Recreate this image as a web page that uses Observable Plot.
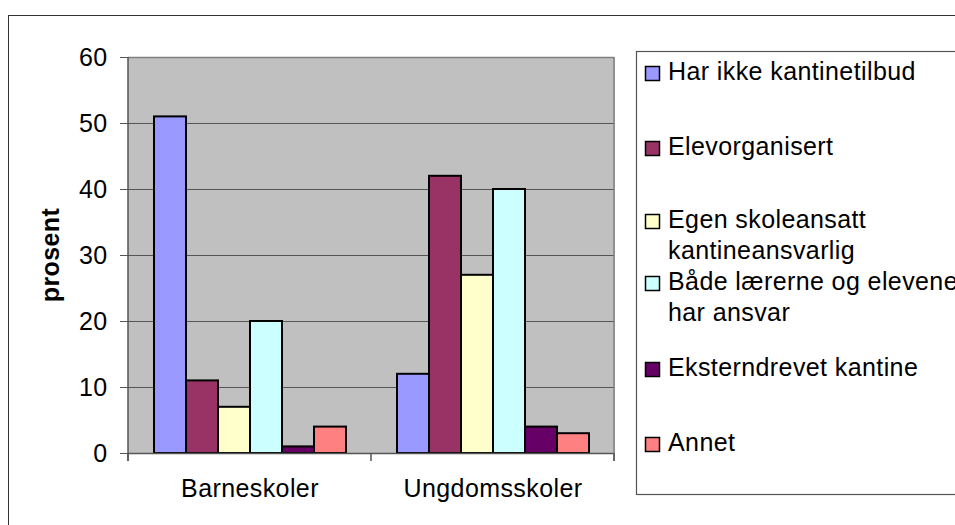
<!DOCTYPE html>
<html>
<head>
<meta charset="utf-8">
<script src="https://cdn.jsdelivr.net/npm/d3@7"></script>
<script src="https://cdn.jsdelivr.net/npm/@observablehq/plot@0.6"></script>
<style>
  html, body { margin: 0; padding: 0; background: #fff; overflow: hidden; width: 955px; height: 525px; }
  #wrap { position: relative; width: 955px; height: 525px; overflow: hidden; }
  #outer { position: absolute; left: 8px; top: 15px; width: 1000px; height: 600px; border: 1px solid #333; box-sizing: border-box; }
  #chart { position: absolute; left: 0; top: 0; }
  svg text { letter-spacing: 0.4px; }
</style>
</head>
<body>
<div id="wrap"><div id="outer"></div><div id="chart"></div></div>
<script>
// ---- data ----
const categories = ["Barneskoler", "Ungdomsskoler"];
const series = [
  "Har ikke kantinetilbud",
  "Elevorganisert",
  "Egen skoleansatt kantineansvarlig",
  "Både lærerne og elevene har ansvar",
  "Eksterndrevet kantine",
  "Annet"
];
const barneskoler = [51, 11, 7, 20, 1, 4];
const ungdomsskoler = [12, 42, 27, 40, 4, 3];
const colors = ["#9999FF", "#993366", "#FFFFCC", "#CCFFFF", "#660066", "#FF8080"];
const yTicks = [0, 10, 20, 30, 40, 50, 60];
const gridTicks = [10, 20, 30, 40, 50];
const yLabel = "prosent";
const legendLines = [
  ["Har ikke kantinetilbud"],
  ["Elevorganisert"],
  ["Egen skoleansatt", "kantineansvarlig"],
  ["Både lærerne og elevene", "har ansvar"],
  ["Eksterndrevet kantine"],
  ["Annet"]
];

// ---- table ----
const valuesByCategory = [barneskoler, ungdomsskoler];
const data = [];
categories.forEach((c, ci) => series.forEach((s, si) => data.push({school: c, type: s, value: valuesByCategory[ci][si]})));

const FONT = "'Liberation Sans', Arial, sans-serif";
const W = 955, H = 525;

const chart = Plot.plot({
  width: W, height: H,
  marginLeft: 128, marginTop: 57, marginRight: 341, marginBottom: 72,
  style: {fontFamily: FONT, fontSize: "25px", background: "transparent", color: "#000"},
  fx: {domain: categories, padding: 0, label: null},
  x: {domain: series, paddingInner: 0, paddingOuter: 0.74, axis: null},
  y: {domain: [0, 60], label: null},
  color: {domain: series, range: colors},
  marks: [
    Plot.frame({fill: "#C0C0C0", stroke: "#C0C0C0", strokeWidth: 1}),
    Plot.gridY(gridTicks, {stroke: "#555", strokeOpacity: 1, strokeWidth: 1}),
    Plot.ruleY([60], {stroke: "#808080", strokeWidth: 1.5}),
    Plot.barY(data, {fx: "school", x: "type", y: "value", fill: "type", stroke: "#000", strokeWidth: 2}),
    Plot.ruleY([0], {stroke: "#555", strokeWidth: 1.5}),
    Plot.axisY({ticks: yTicks, tickSize: 8, tickPadding: 13, fontSize: 25, stroke: "#555", fill: "#000", label: null}),
    Plot.axisFx({anchor: "bottom", tickSize: 0, tickPadding: 26, fontSize: 25, fill: "#000", label: null})
  ]
});

document.getElementById("chart").appendChild(chart);

// ---- extra decorations using the chart's scales ----
const svg = d3.select(chart);
const fx = chart.scale("fx");
const ys = chart.scale("y");
const yTop = ys.apply(60), yBot = ys.apply(0);
const left = fx.apply(categories[0]);
const right = fx.apply(categories[categories.length - 1]) + fx.bandwidth;
const edges = categories.map(c => fx.apply(c)).concat([right]);

const g = svg.append("g").attr("text-anchor", "start");
// left axis line
g.append("line").attr("x1", left).attr("x2", left).attr("y1", yTop).attr("y2", yBot + 8)
  .attr("stroke", "#555").attr("stroke-width", 1.5);
// right border
g.append("line").attr("x1", right).attr("x2", right).attr("y1", yTop).attr("y2", yBot + 8)
  .attr("stroke", "#808080").attr("stroke-width", 1.5);
// category boundary ticks
g.selectAll("line.ct").data(edges).join("line").attr("class", "ct")
  .attr("x1", d => d).attr("x2", d => d).attr("y1", yBot).attr("y2", yBot + 8)
  .attr("stroke", "#555").attr("stroke-width", 1.5);

// y-axis title
g.append("text").text(yLabel)
  .attr("transform", `translate(59,${(yTop + yBot) / 2}) rotate(-90)`)
  .attr("text-anchor", "middle").attr("font-weight", "bold")
  .attr("font-family", FONT).attr("font-size", 25).attr("fill", "#000");

// legend
const color = chart.scale("color");
const legendX = 636.5, legendY = 51.5, legendH = 443;
g.append("rect").attr("x", legendX).attr("y", legendY).attr("width", 400).attr("height", legendH)
  .attr("fill", "#fff").attr("stroke", "#555").attr("stroke-width", 1.2);
const baselines = [80, 155, 228, 290, 376, 451];
const lineGap = 31;
series.forEach((s, i) => {
  const b = baselines[i];
  g.append("rect").attr("x", 645.5).attr("y", b - 13.5).attr("width", 14).attr("height", 14)
    .attr("fill", color.apply(s)).attr("stroke", "#000").attr("stroke-width", 1.5);
  legendLines[i].forEach((t, li) => {
    g.append("text").text(t).attr("x", 668).attr("y", b + li * lineGap)
      .attr("text-anchor", "start")
      .attr("font-family", FONT).attr("font-size", 25).attr("fill", "#000");
  });
});
</script>
</body>
</html>
